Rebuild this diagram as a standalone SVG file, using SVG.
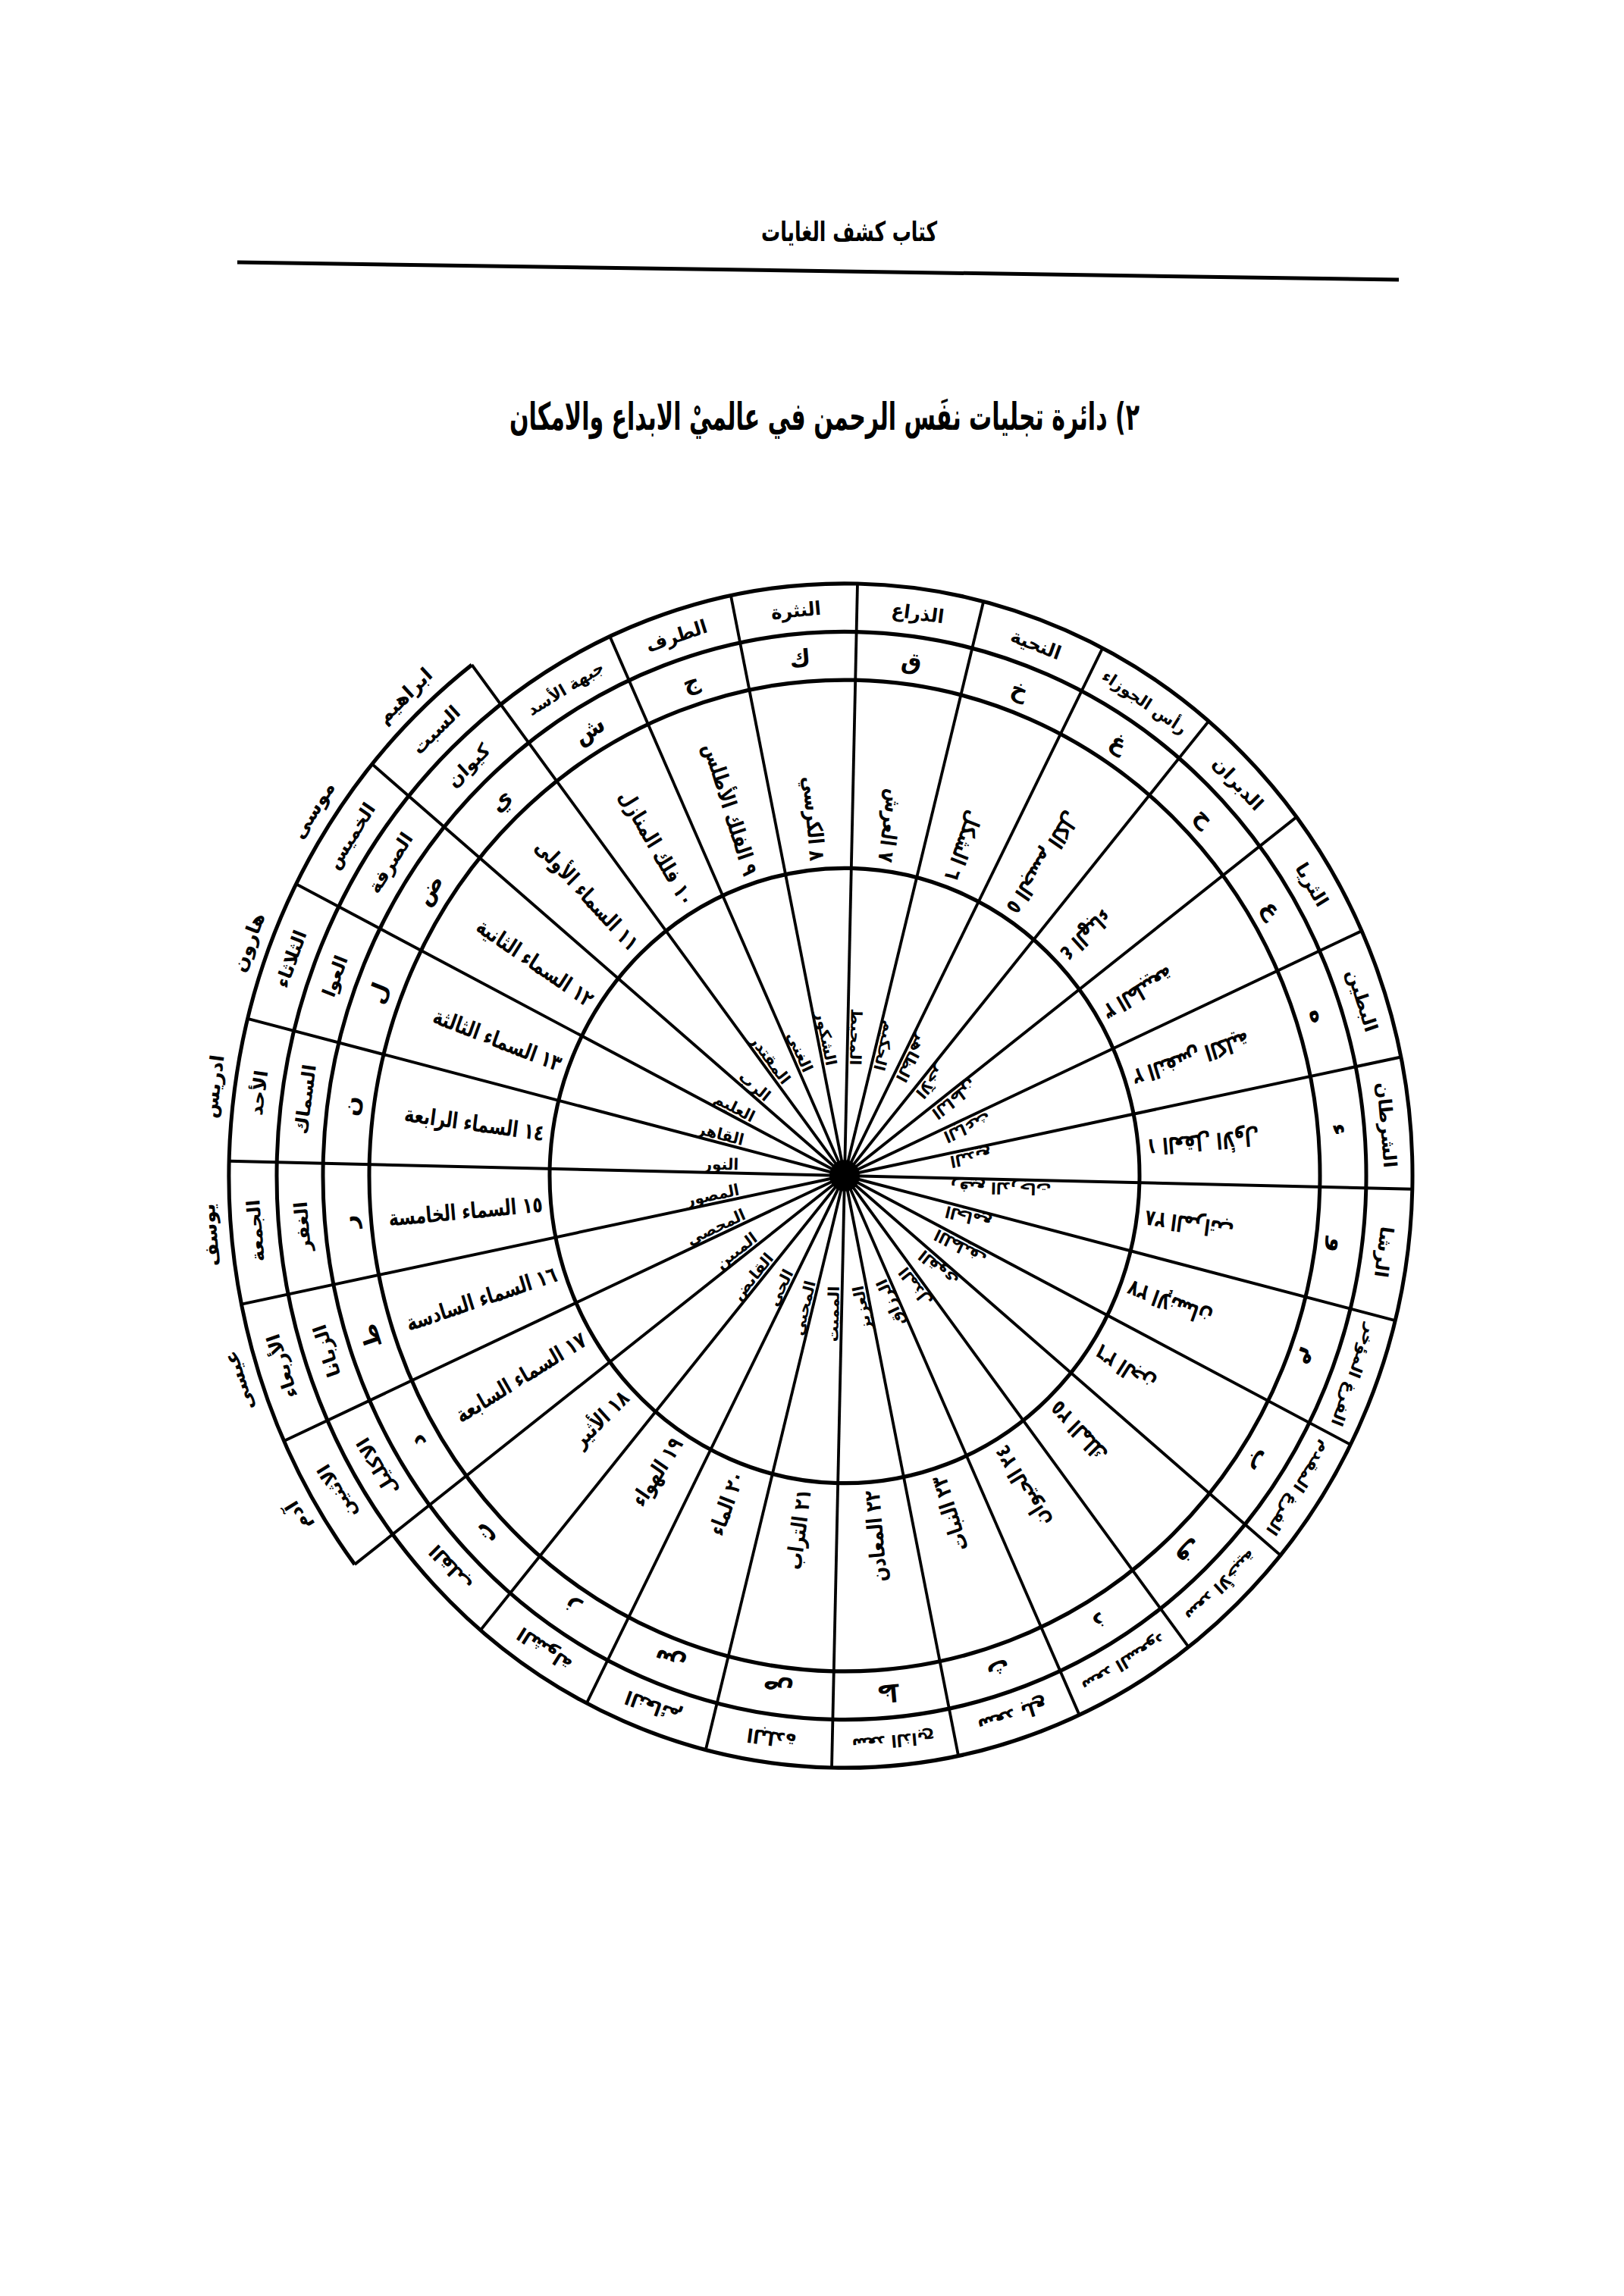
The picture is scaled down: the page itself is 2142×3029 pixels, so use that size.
<svg xmlns="http://www.w3.org/2000/svg" width="2142" height="3029" viewBox="0 0 2142 3029">
<style>
text{font-family:"DejaVu Sans",sans-serif;fill:#000;font-weight:bold}
.hdr{font-size:36px}
.ttl{font-size:50px}
.ring{fill:none;stroke:#000;stroke-width:5}
.ray{stroke:#000;stroke-width:3.8}
.w{font-size:25px}
.n{font-size:20px}
.l{font-size:30px}
.m{font-size:24px}
.ms{font-size:21px}
.d{font-size:24px}
.p{font-size:25px}
</style>
<rect width="2142" height="3029" fill="#fff"/>
<g id="page-header">
<text class="hdr" x="1120" y="318" text-anchor="middle" textLength="232" lengthAdjust="spacingAndGlyphs">كتاب كشف الغايات</text>
<line x1="313" y1="346" x2="1845" y2="369" stroke="#000" stroke-width="5"/>
</g>
<g id="title">
<text class="ttl" x="1503" y="567" text-anchor="end" textLength="831" lengthAdjust="spacingAndGlyphs">٢)  دائرة تجليات نفَس الرحمن في عالميْ الابداع  والامكان</text>
</g>
<g transform="translate(1114,1551) scale(1,1.043) rotate(1.3)">
<g id="connectors">
<circle class="ring" r="389"/>
<circle class="ring" r="627"/>
<circle class="ring" r="688"/>
<circle class="ring" r="749"/>
<path class="ring" d="M -634.8 506.3 A 812 812 0 0 1 -506.3 -634.8"/>
<circle r="20" fill="#000"/>
<line class="ray" x2="749" transform="rotate(0)"/>
<line class="ray" x2="749" transform="rotate(12.857)"/>
<line class="ray" x2="749" transform="rotate(25.714)"/>
<line class="ray" x2="749" transform="rotate(38.571)"/>
<line class="ray" x2="749" transform="rotate(51.429)"/>
<line class="ray" x2="749" transform="rotate(64.286)"/>
<line class="ray" x2="749" transform="rotate(77.143)"/>
<line class="ray" x2="749" transform="rotate(90)"/>
<line class="ray" x2="749" transform="rotate(102.857)"/>
<line class="ray" x2="749" transform="rotate(115.714)"/>
<line class="ray" x2="749" transform="rotate(128.571)"/>
<line class="ray" x2="812" transform="rotate(141.429)"/>
<line class="ray" x2="812" transform="rotate(154.286)"/>
<line class="ray" x2="812" transform="rotate(167.143)"/>
<line class="ray" x2="812" transform="rotate(180)"/>
<line class="ray" x2="812" transform="rotate(192.857)"/>
<line class="ray" x2="812" transform="rotate(205.714)"/>
<line class="ray" x2="812" transform="rotate(218.571)"/>
<line class="ray" x2="812" transform="rotate(231.429)"/>
<line class="ray" x2="749" transform="rotate(244.286)"/>
<line class="ray" x2="749" transform="rotate(257.143)"/>
<line class="ray" x2="749" transform="rotate(270)"/>
<line class="ray" x2="749" transform="rotate(282.857)"/>
<line class="ray" x2="749" transform="rotate(295.714)"/>
<line class="ray" x2="749" transform="rotate(308.571)"/>
<line class="ray" x2="749" transform="rotate(321.429)"/>
<line class="ray" x2="749" transform="rotate(334.286)"/>
<line class="ray" x2="749" transform="rotate(347.143)"/>
</g>

<g id="s0">
<text class="w" transform="rotate(6.429) translate(400 0) rotate(180) scale(0.88 1.12)" text-anchor="end" dy="0.35em">٢٨  المراتب</text>
<text class="l" transform="rotate(6.429) translate(657 0) rotate(90)" text-anchor="middle" dy="0.35em">و</text>
<text class="m" transform="rotate(6.429) translate(718 0) rotate(90)" text-anchor="middle" dy="0.35em">الرشا</text>
<text class="n" transform="rotate(0) translate(140 0) rotate(180)" text-anchor="end" dy="-4">رفيع الدرجات</text>
</g>
<g id="s1">
<text class="w" transform="rotate(19.286) translate(400 0) rotate(180) scale(0.88 1.12)" text-anchor="end" dy="0.35em">٢٧  الإنسان</text>
<text class="l" transform="rotate(19.286) translate(657 0) rotate(90)" text-anchor="middle" dy="0.35em">م</text>
<text class="ms" transform="rotate(19.286) translate(718 0) rotate(90)" text-anchor="middle" dy="0.35em">الفرغ المؤخر</text>
<text class="n" transform="rotate(12.857) translate(140 0) rotate(180)" text-anchor="end" dy="-4">الجامع</text>
</g>
<g id="s2">
<text class="w" transform="rotate(32.143) translate(400 0) rotate(180) scale(0.88 1.12)" text-anchor="end" dy="0.35em">٢٦  الجن</text>
<text class="l" transform="rotate(32.143) translate(657 0) rotate(90)" text-anchor="middle" dy="0.35em">ب</text>
<text class="ms" transform="rotate(32.143) translate(718 0) rotate(90)" text-anchor="middle" dy="0.35em">الفرغ المقدم</text>
<text class="n" transform="rotate(25.714) translate(140 0) rotate(180)" text-anchor="end" dy="-4">اللطيف</text>
</g>
<g id="s3">
<text class="w" transform="rotate(45) translate(400 0) rotate(180) scale(0.88 1.12)" text-anchor="end" dy="0.35em">٢٥  الملك</text>
<text class="l" transform="rotate(45) translate(657 0) rotate(90)" text-anchor="middle" dy="0.35em">ف</text>
<text class="ms" transform="rotate(45) translate(718 0) rotate(90)" text-anchor="middle" dy="0.35em">سعد الأخبية</text>
<text class="n" transform="rotate(38.571) translate(140 0) rotate(180)" text-anchor="end" dy="-4">القوي</text>
</g>
<g id="s4">
<text class="w" transform="rotate(57.857) translate(400 0) rotate(180) scale(0.88 1.12)" text-anchor="end" dy="0.35em">٢٤  الحيوان</text>
<text class="l" transform="rotate(57.857) translate(657 0) rotate(90)" text-anchor="middle" dy="0.35em">ذ</text>
<text class="ms" transform="rotate(57.857) translate(718 0) rotate(90)" text-anchor="middle" dy="0.35em">سعد السعود</text>
<text class="n" transform="rotate(51.429) translate(140 0) rotate(180)" text-anchor="end" dy="-4">المذل</text>
</g>
<g id="s5">
<text class="w" transform="rotate(70.714) translate(400 0) rotate(180) scale(0.88 1.12)" text-anchor="end" dy="0.35em">٢٣  النبات</text>
<text class="l" transform="rotate(70.714) translate(657 0) rotate(90)" text-anchor="middle" dy="0.35em">ث</text>
<text class="m" transform="rotate(70.714) translate(718 0) rotate(90)" text-anchor="middle" dy="0.35em">سعد بلع</text>
<text class="n" transform="rotate(64.286) translate(140 0) rotate(180)" text-anchor="end" dy="-4">الرزاق</text>
</g>
<g id="s6">
<text class="w" transform="rotate(83.571) translate(400 0) rotate(180) scale(0.88 1.12)" text-anchor="end" dy="0.35em">٢٢  المعادن</text>
<text class="l" transform="rotate(83.571) translate(657 0) rotate(90)" text-anchor="middle" dy="0.35em">ظ</text>
<text class="ms" transform="rotate(83.571) translate(718 0) rotate(90)" text-anchor="middle" dy="0.35em">سعد الذابح</text>
<text class="n" transform="rotate(77.143) translate(140 0) rotate(180)" text-anchor="end" dy="-4">العزيز</text>
</g>
<g id="s7">
<text class="w" transform="rotate(96.429) translate(400 0) rotate(180) scale(0.88 1.12)" text-anchor="end" dy="0.35em">٢١  التراب</text>
<text class="l" transform="rotate(96.429) translate(657 0) rotate(90)" text-anchor="middle" dy="0.35em">ص</text>
<text class="m" transform="rotate(96.429) translate(718 0) rotate(90)" text-anchor="middle" dy="0.35em">البلدة</text>
<text class="n" transform="rotate(90) translate(140 0) rotate(180)" text-anchor="end" dy="-4">المميت</text>
</g>
<g id="s8">
<text class="w" transform="rotate(109.286) translate(400 0) rotate(180) scale(0.88 1.12)" text-anchor="end" dy="0.35em">٢٠  الماء</text>
<text class="l" transform="rotate(109.286) translate(657 0) rotate(90)" text-anchor="middle" dy="0.35em">س</text>
<text class="m" transform="rotate(109.286) translate(718 0) rotate(90)" text-anchor="middle" dy="0.35em">النعائم</text>
<text class="n" transform="rotate(102.857) translate(140 0) rotate(180)" text-anchor="end" dy="-4">المحيي</text>
</g>
<g id="s9">
<text class="w" transform="rotate(122.143) translate(400 0) rotate(180) scale(0.88 1.12)" text-anchor="end" dy="0.35em">١٩  الهواء</text>
<text class="l" transform="rotate(122.143) translate(657 0) rotate(90)" text-anchor="middle" dy="0.35em">ز</text>
<text class="m" transform="rotate(122.143) translate(718 0) rotate(90)" text-anchor="middle" dy="0.35em">الشولة</text>
<text class="n" transform="rotate(115.714) translate(140 0) rotate(180)" text-anchor="end" dy="-4">الحي</text>
</g>
<g id="s10">
<text class="w" transform="rotate(135) translate(400 0) rotate(180) scale(0.88 1.12)" text-anchor="end" dy="0.35em">١٨  الأثير</text>
<text class="l" transform="rotate(135) translate(657 0) rotate(90)" text-anchor="middle" dy="0.35em">ت</text>
<text class="m" transform="rotate(135) translate(718 0) rotate(90)" text-anchor="middle" dy="0.35em">القلب</text>
<text class="n" transform="rotate(128.571) translate(140 0) rotate(180)" text-anchor="end" dy="-4">القابض</text>
</g>
<g id="s11">
<text class="w" transform="rotate(147.857) translate(400 0) rotate(180) scale(0.88 1.12)" text-anchor="end" dy="0.35em">١٧  السماء السابعة</text>
<text class="l" transform="rotate(147.857) translate(657 0) rotate(90)" text-anchor="middle" dy="0.35em">د</text>
<text class="m" transform="rotate(147.857) translate(718 0) rotate(90)" text-anchor="middle" dy="0.35em">الاكليل</text>
<text class="d" transform="rotate(147.857) translate(780 0) rotate(90)" text-anchor="middle" dy="0.35em">الاثنين</text>
<text class="p" transform="rotate(147.857) translate(840 0) rotate(90)" text-anchor="middle" dy="0.35em">آدم</text>
<text class="n" transform="rotate(141.429) translate(140 0) rotate(180)" text-anchor="end" dy="-4">المبين</text>
</g>
<g id="s12">
<text class="w" transform="rotate(160.714) translate(400 0) rotate(180) scale(0.88 1.12)" text-anchor="end" dy="0.35em">١٦  السماء السادسة</text>
<text class="l" transform="rotate(160.714) translate(657 0) rotate(90)" text-anchor="middle" dy="0.35em">ط</text>
<text class="m" transform="rotate(160.714) translate(718 0) rotate(90)" text-anchor="middle" dy="0.35em">الزبانا</text>
<text class="d" transform="rotate(160.714) translate(780 0) rotate(90)" text-anchor="middle" dy="0.35em">الأربعاء</text>
<text class="p" transform="rotate(160.714) translate(840 0) rotate(90)" text-anchor="middle" dy="0.35em">عيسى</text>
<text class="n" transform="rotate(154.286) translate(140 0) rotate(180)" text-anchor="end" dy="-4">المحصي</text>
</g>
<g id="s13">
<text class="w" transform="rotate(173.571) translate(400 0) rotate(180) scale(0.88 1.12)" text-anchor="end" dy="0.35em">١٥  السماء الخامسة</text>
<text class="l" transform="rotate(173.571) translate(657 0) rotate(90)" text-anchor="middle" dy="0.35em">ر</text>
<text class="m" transform="rotate(173.571) translate(718 0) rotate(90)" text-anchor="middle" dy="0.35em">الغفر</text>
<text class="d" transform="rotate(173.571) translate(780 0) rotate(90)" text-anchor="middle" dy="0.35em">الجمعة</text>
<text class="p" transform="rotate(173.571) translate(840 0) rotate(90)" text-anchor="middle" dy="0.35em">يوسف</text>
<text class="n" transform="rotate(167.143) translate(140 0) rotate(180)" text-anchor="end" dy="-4">المصور</text>
</g>
<g id="s14">
<text class="w" transform="rotate(186.429) translate(400 0) rotate(180) scale(0.88 1.12)" text-anchor="end" dy="0.35em">١٤  السماء الرابعة</text>
<text class="l" transform="rotate(186.429) translate(657 0) rotate(90)" text-anchor="middle" dy="0.35em">ن</text>
<text class="m" transform="rotate(186.429) translate(718 0) rotate(90)" text-anchor="middle" dy="0.35em">السماك</text>
<text class="d" transform="rotate(186.429) translate(780 0) rotate(90)" text-anchor="middle" dy="0.35em">الأحد</text>
<text class="p" transform="rotate(186.429) translate(840 0) rotate(90)" text-anchor="middle" dy="0.35em">ادريس</text>
<text class="n" transform="rotate(180) translate(140 0) rotate(180)" text-anchor="end" dy="-4">النور</text>
</g>
<g id="s15">
<text class="w" transform="rotate(199.286) translate(400 0) rotate(180) scale(0.88 1.12)" text-anchor="end" dy="0.35em">١٣  السماء الثالثة</text>
<text class="l" transform="rotate(199.286) translate(657 0) rotate(90)" text-anchor="middle" dy="0.35em">ل</text>
<text class="m" transform="rotate(199.286) translate(718 0) rotate(90)" text-anchor="middle" dy="0.35em">العوا</text>
<text class="d" transform="rotate(199.286) translate(780 0) rotate(90)" text-anchor="middle" dy="0.35em">الثلاثاء</text>
<text class="p" transform="rotate(199.286) translate(840 0) rotate(90)" text-anchor="middle" dy="0.35em">هارون</text>
<text class="n" transform="rotate(192.857) translate(140 0) rotate(180)" text-anchor="end" dy="-4">القاهر</text>
</g>
<g id="s16">
<text class="w" transform="rotate(212.143) translate(400 0) rotate(180) scale(0.88 1.12)" text-anchor="end" dy="0.35em">١٢  السماء الثانية</text>
<text class="l" transform="rotate(212.143) translate(657 0) rotate(90)" text-anchor="middle" dy="0.35em">ض</text>
<text class="m" transform="rotate(212.143) translate(718 0) rotate(90)" text-anchor="middle" dy="0.35em">الصرفة</text>
<text class="d" transform="rotate(212.143) translate(780 0) rotate(90)" text-anchor="middle" dy="0.35em">الخميس</text>
<text class="p" transform="rotate(212.143) translate(840 0) rotate(90)" text-anchor="middle" dy="0.35em">موسى</text>
<text class="n" transform="rotate(205.714) translate(140 0) rotate(180)" text-anchor="end" dy="-4">العليم</text>
</g>
<g id="s17">
<text class="w" transform="rotate(225) translate(400 0) rotate(180) scale(0.88 1.12)" text-anchor="end" dy="0.35em">١١  السماء الأولى</text>
<text class="l" transform="rotate(225) translate(657 0) rotate(90)" text-anchor="middle" dy="0.35em">ي</text>
<text class="m" transform="rotate(225) translate(718 0) rotate(90)" text-anchor="middle" dy="0.35em">كيوان</text>
<text class="d" transform="rotate(225) translate(780 0) rotate(90)" text-anchor="middle" dy="0.35em">السبت</text>
<text class="p" transform="rotate(225) translate(840 0) rotate(90)" text-anchor="middle" dy="0.35em">ابراهيم</text>
<text class="n" transform="rotate(218.571) translate(140 0) rotate(180)" text-anchor="end" dy="-4">الرب</text>
</g>
<g id="s18">
<text class="w" transform="rotate(237.857) translate(400 0) rotate(180) scale(0.88 1.12)" text-anchor="end" dy="0.35em">١٠  فلك المنازل</text>
<text class="l" transform="rotate(237.857) translate(657 0) rotate(90)" text-anchor="middle" dy="0.35em">ش</text>
<text class="ms" transform="rotate(237.857) translate(718 0) rotate(90)" text-anchor="middle" dy="0.35em">جبهة الأسد</text>
<text class="n" transform="rotate(231.429) translate(140 0) rotate(180)" text-anchor="end" dy="-4">المقتدر</text>
</g>
<g id="s19">
<text class="w" transform="rotate(250.714) translate(400 0) rotate(180) scale(0.88 1.12)" text-anchor="end" dy="0.35em">٩  الفلك الأطلس</text>
<text class="l" transform="rotate(250.714) translate(657 0) rotate(90)" text-anchor="middle" dy="0.35em">ج</text>
<text class="m" transform="rotate(250.714) translate(718 0) rotate(90)" text-anchor="middle" dy="0.35em">الطرف</text>
<text class="n" transform="rotate(244.286) translate(140 0) rotate(180)" text-anchor="end" dy="-4">الغني</text>
</g>
<g id="s20">
<text class="w" transform="rotate(263.571) translate(400 0) rotate(180) scale(0.88 1.12)" text-anchor="end" dy="0.35em">٨  الكرسي</text>
<text class="l" transform="rotate(263.571) translate(657 0) rotate(90)" text-anchor="middle" dy="0.35em">ك</text>
<text class="m" transform="rotate(263.571) translate(718 0) rotate(90)" text-anchor="middle" dy="0.35em">النثرة</text>
<text class="n" transform="rotate(257.143) translate(140 0) rotate(180)" text-anchor="end" dy="-4">الشكور</text>
</g>
<g id="s21">
<text class="w" transform="rotate(276.429) translate(400 0) rotate(180) scale(0.88 1.12)" text-anchor="end" dy="0.35em">٧  العرش</text>
<text class="l" transform="rotate(276.429) translate(657 0) rotate(90)" text-anchor="middle" dy="0.35em">ق</text>
<text class="m" transform="rotate(276.429) translate(718 0) rotate(90)" text-anchor="middle" dy="0.35em">الذراع</text>
<text class="n" transform="rotate(270) translate(140 0) rotate(180)" text-anchor="end" dy="-4">المحيط</text>
</g>
<g id="s22">
<text class="w" transform="rotate(289.286) translate(400 0) rotate(180) scale(0.88 1.12)" text-anchor="end" dy="0.35em">٦  الشكل</text>
<text class="l" transform="rotate(289.286) translate(657 0) rotate(90)" text-anchor="middle" dy="0.35em">خ</text>
<text class="m" transform="rotate(289.286) translate(718 0) rotate(90)" text-anchor="middle" dy="0.35em">النحية</text>
<text class="n" transform="rotate(282.857) translate(140 0) rotate(180)" text-anchor="end" dy="-4">الحكيم</text>
</g>
<g id="s23">
<text class="w" transform="rotate(302.143) translate(400 0) rotate(180) scale(0.88 1.12)" text-anchor="end" dy="0.35em">٥  الجسم الكل</text>
<text class="l" transform="rotate(302.143) translate(657 0) rotate(90)" text-anchor="middle" dy="0.35em">غ</text>
<text class="ms" transform="rotate(302.143) translate(718 0) rotate(90)" text-anchor="middle" dy="0.35em">رأس الجوزاء</text>
<text class="n" transform="rotate(295.714) translate(140 0) rotate(180)" text-anchor="end" dy="-4">الظاهر</text>
</g>
<g id="s24">
<text class="w" transform="rotate(315) translate(400 0) rotate(180) scale(0.88 1.12)" text-anchor="end" dy="0.35em">٤  الهباء</text>
<text class="l" transform="rotate(315) translate(657 0) rotate(90)" text-anchor="middle" dy="0.35em">ح</text>
<text class="m" transform="rotate(315) translate(718 0) rotate(90)" text-anchor="middle" dy="0.35em">الدبران</text>
<text class="n" transform="rotate(308.571) translate(140 0) rotate(180)" text-anchor="end" dy="-4">الآخر</text>
</g>
<g id="s25">
<text class="w" transform="rotate(327.857) translate(400 0) rotate(180) scale(0.88 1.12)" text-anchor="end" dy="0.35em">٣  الطبيعة</text>
<text class="l" transform="rotate(327.857) translate(657 0) rotate(90)" text-anchor="middle" dy="0.35em">ع</text>
<text class="m" transform="rotate(327.857) translate(718 0) rotate(90)" text-anchor="middle" dy="0.35em">الثريا</text>
<text class="n" transform="rotate(321.429) translate(140 0) rotate(180)" text-anchor="end" dy="-4">الباطن</text>
</g>
<g id="s26">
<text class="w" transform="rotate(340.714) translate(400 0) rotate(180) scale(0.88 1.12)" text-anchor="end" dy="0.35em">٢  النفس الكلية</text>
<text class="l" transform="rotate(340.714) translate(657 0) rotate(90)" text-anchor="middle" dy="0.35em">ه</text>
<text class="m" transform="rotate(340.714) translate(718 0) rotate(90)" text-anchor="middle" dy="0.35em">البطين</text>
<text class="n" transform="rotate(334.286) translate(140 0) rotate(180)" text-anchor="end" dy="-4">الباعث</text>
</g>
<g id="s27">
<text class="w" transform="rotate(353.571) translate(400 0) rotate(180) scale(0.88 1.12)" text-anchor="end" dy="0.35em">١  العقل الأول</text>
<text class="l" transform="rotate(353.571) translate(657 0) rotate(90)" text-anchor="middle" dy="0.35em">ء</text>
<text class="m" transform="rotate(353.571) translate(718 0) rotate(90)" text-anchor="middle" dy="0.35em">الشرطان</text>
<text class="n" transform="rotate(347.143) translate(140 0) rotate(180)" text-anchor="end" dy="-4">البديع</text>
</g>
</g>
</svg>
